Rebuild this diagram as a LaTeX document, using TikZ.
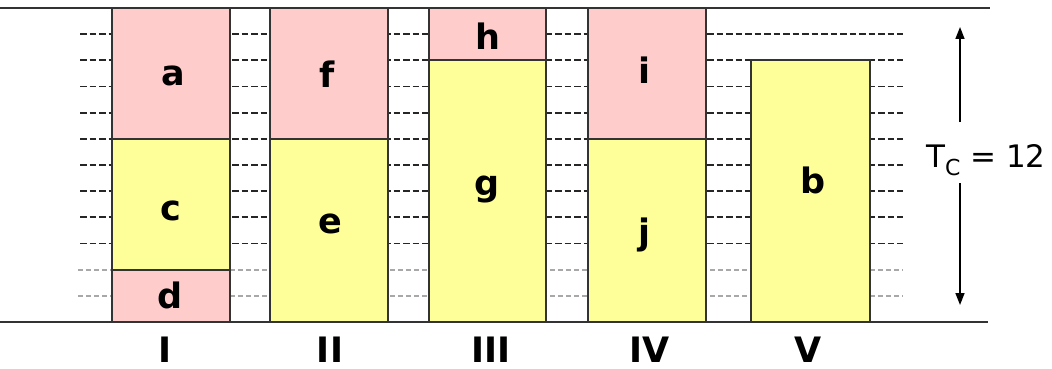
\documentclass[tikz,border=0pt]{standalone}
\usepackage{fontspec}
\setmainfont{DejaVu Sans}
\usetikzlibrary{arrows.meta}
\definecolor{pinkfill}{HTML}{FFCCCC}
\definecolor{yellowfill}{HTML}{FFFF99}
\definecolor{edgecol}{HTML}{333333}
\definecolor{lightdash}{HTML}{A8A8A8}
\def\U{26.1667}
\begin{document}
\begin{tikzpicture}[x=1pt,y=-1pt,
  box/.style={draw=edgecol, line width=1.8pt, anchor=north west, inner sep=0pt, outer sep=0pt, minimum width=118pt},
  pinkbox/.style={box, fill=pinkfill},
  yellowbox/.style={box, fill=yellowfill},
  lbl/.style={font=\fontsize{35}{40}\selectfont\bfseries, anchor=base, inner sep=0pt},
  gridline/.style={black!85, line width=1.7pt, dash pattern=on 6.5pt off 3pt},
  gridlight/.style={lightdash, line width=1.7pt, dash pattern=on 5pt off 3pt},
  rule/.style={edgecol, line width=2.4pt},
  dimarrow/.style={black, line width=1.5pt, -{Triangle[length=12pt,width=9pt]}}
]
\path[use as bounding box] (0,0) rectangle (1052,369);
% dashed grid
\foreach \k in {1,...,9} \draw[gridline] (80,{8+\k*\U}) -- (903,{8+\k*\U});
\foreach \k in {10,11} \draw[gridlight] (78,{8+\k*\U}) -- (903,{8+\k*\U});
% column I
\node[pinkbox, minimum height={5*\U pt}] (boxa) at (112,8) {};
\node[yellowbox, minimum height={5*\U pt}] (boxc) at (112,{8+5*\U}) {};
\node[pinkbox, minimum height={2*\U pt}] (boxd) at (112,{8+10*\U}) {};
% column II
\node[pinkbox, minimum height={5*\U pt}] (boxf) at (270,8) {};
\node[yellowbox, minimum height={7*\U pt}] (boxe) at (270,{8+5*\U}) {};
% column III
\node[pinkbox, minimum width=117pt, minimum height={2*\U pt}] (boxh) at (429,8) {};
\node[yellowbox, minimum width=117pt, minimum height={10*\U pt}] (boxg) at (429,{8+2*\U}) {};
% column IV
\node[pinkbox, minimum height={5*\U pt}] (boxi) at (588,8) {};
\node[yellowbox, minimum height={7*\U pt}] (boxj) at (588,{8+5*\U}) {};
% column V
\node[yellowbox, minimum width=119pt, minimum height={10*\U pt}] (boxb) at (751,{8+2*\U}) {};
% rules
\draw[rule] (0,8) -- (990,8);
\draw[rule] (0,322) -- (988,322);
% labels
\node[lbl] (la) at (173,85) {a};
\node[lbl] (lc) at (171,220) {c};
\node[lbl] (ld) at (170,308) {d};
\node[lbl] (lf) at (327,88) {f};
\node[lbl] (le) at (330,233) {e};
\node[lbl] (lh) at (488,50) {h};
\node[lbl] (lg) at (487,195) {g};
\node[lbl] (li) at (644,83) {i};
\node[lbl] (lj) at (644,244) {j};
\node[lbl] (lb) at (813,193) {b};
% column numerals
\node[lbl] (n1) at (165,362) {I};
\node[lbl] (n2) at (330,362) {II};
\node[lbl] (n3) at (491,362) {III};
\node[lbl] (n4) at (650,362) {IV};
\node[lbl] (n5) at (808,362) {V};
% T_C dimension
\node[anchor=base west, inner sep=0pt, font=\fontsize{31}{36}\selectfont] (tc) at (926,167) {T\raisebox{-8pt}{\fontsize{22}{26}\selectfont C} = 12};
\coordinate (upstart) at (960,122);
\coordinate (uptip) at (960,27);
\coordinate (downstart) at (960,183);
\coordinate (downtip) at (960,305);
\draw[dimarrow] (upstart) -- (uptip);
\draw[dimarrow] (downstart) -- (downtip);
\end{tikzpicture}
\end{document}
